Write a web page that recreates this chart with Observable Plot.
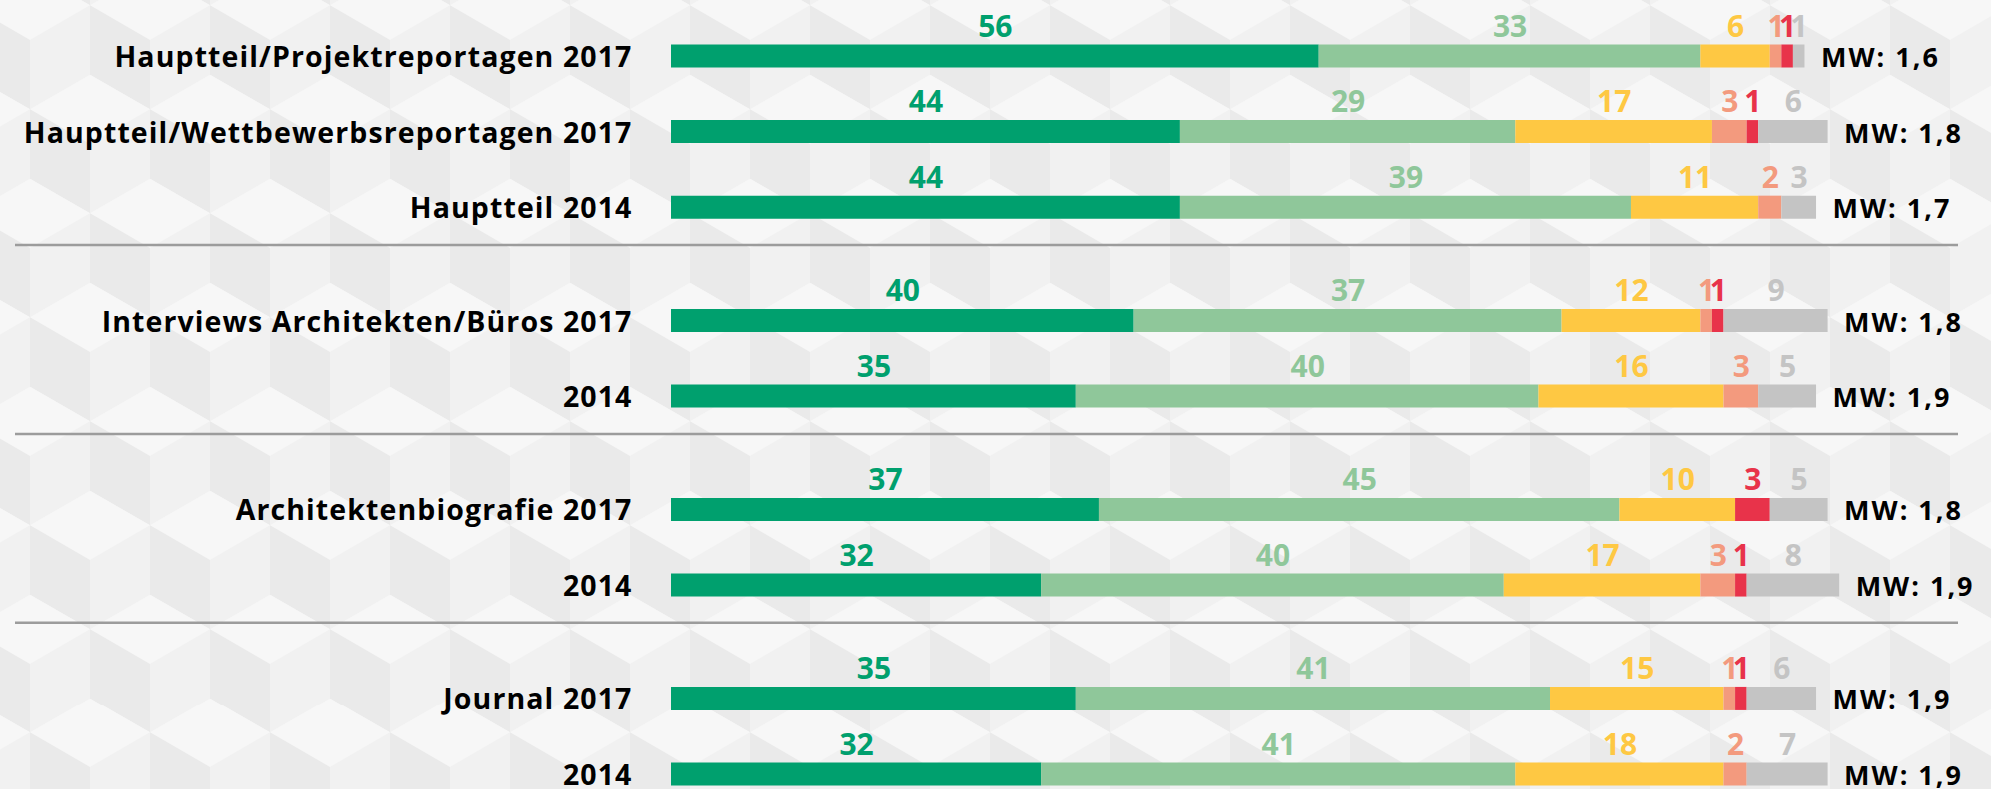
<!DOCTYPE html>
<html>
<head>
<meta charset="utf-8">
<script src="https://cdn.jsdelivr.net/npm/d3@7"></script>
<script src="https://cdn.jsdelivr.net/npm/@observablehq/plot@0.6"></script>
<style>
  html, body { margin: 0; padding: 0; }
  body { width: 1991px; height: 789px; overflow: hidden; background-color: #f3f3f3; font-family: "Open Sans", Lato, sans-serif; }
  #chart svg { display: block; }
  .mw text { letter-spacing: 2px; }
  .cat text { letter-spacing: 1.1px; }
</style>
</head>
<body>
<div id="chart"></div>
<script>
// ---- data ----
const categories = [
  "Hauptteil/Projektreportagen 2017",
  "Hauptteil/Wettbewerbsreportagen 2017",
  "Hauptteil 2014",
  "Interviews Architekten/Büros 2017",
  "2014",
  "Architektenbiografie 2017",
  "2014",
  "Journal 2017",
  "2014"
];
const groups = [0, 0, 0, 1, 1, 2, 2, 3, 3];
const seriesNames = ["Note 1", "Note 2", "Note 3", "Note 4", "Note 5", "keine Angabe"];
const note1 = [56, 44, 44, 40, 35, 37, 32, 35, 32];
const note2 = [33, 29, 39, 37, 40, 45, 40, 41, 41];
const note3 = [6, 17, 11, 12, 16, 10, 17, 15, 18];
const note4 = [1, 3, 2, 1, 3, 0, 3, 1, 2];
const note5 = [1, 1, 0, 1, 0, 3, 1, 1, 0];
const keineAngabe = [1, 6, 3, 9, 5, 5, 8, 6, 7];
const mittelwert = ["1,6", "1,8", "1,7", "1,8", "1,9", "1,8", "1,9", "1,9", "1,9"];
const colors = ["#00a06e", "#8fc79a", "#fec843", "#f39a7e", "#e8334a", "#c4c4c4"];

// ---- background pattern (isometric cubes) ----
(function () {
  const W = 120, s = 69.282, H = 3 * s;
  const top = "#f7f7f7", left = "#eaeaea", right = "#f1f1f1";
  const centers = [[0, 0], [120, 0], [60, 1.5 * s], [0, H], [120, H]];
  let p = `<rect width="${W}" height="${H}" fill="${top}"/>`;
  for (const [cx, cy] of centers) {
    const pts = a => a.map(q => q.join(",")).join(" ");
    p += `<polygon fill="${top}" points="${pts([[cx, cy - s], [cx + 60, cy - s / 2], [cx, cy], [cx - 60, cy - s / 2]])}"/>`;
    p += `<polygon fill="${left}" points="${pts([[cx - 60, cy - s / 2], [cx, cy], [cx, cy + s], [cx - 60, cy + s / 2]])}"/>`;
    p += `<polygon fill="${right}" points="${pts([[cx, cy], [cx + 60, cy - s / 2], [cx + 60, cy + s / 2], [cx, cy + s]])}"/>`;
  }
  const svg = `<svg xmlns="http://www.w3.org/2000/svg" width="${W}" height="${H}" viewBox="0 0 ${W} ${H}">${p}</svg>`;
  document.body.style.backgroundImage = `url("data:image/svg+xml,${encodeURIComponent(svg)}")`;
  document.body.style.backgroundSize = `${W}px ${H}px`;
  document.body.style.backgroundPosition = `30px 40px`;
})();

// ---- derived tables ----
const series = [note1, note2, note3, note4, note5, keineAngabe];
const rows = categories.map((c, i) => ({
  label: c,
  pos: i + groups[i] * 0.5,
  total: d3.sum(series, s => s[i]),
  mw: "MW: " + mittelwert[i]
}));
const segs = [];
rows.forEach((r, i) => {
  let acc = 0;
  series.forEach((s, k) => {
    const v = s[i];
    segs.push({pos: r.pos, x1: acc, x2: acc + v, value: v, color: colors[k], name: seriesNames[k]});
    acc += v;
  });
});
const separators = d3.range(1, rows.length)
  .filter(i => groups[i] !== groups[i - 1])
  .map(i => rows[i - 1].pos + 0.5);

const chart = Plot.plot({
  width: 1991,
  height: 789,
  marginLeft: 15,
  marginRight: 33,
  marginTop: 0,
  marginBottom: 0,
  style: {background: "transparent", fontFamily: "'Open Sans', sans-serif"},
  x: {domain: [0, 100], range: [671, 1827.6], axis: null},
  y: {domain: [0, 9.5], range: [55.5, 773.5], axis: null},
  marks: [
    Plot.ruleY(separators, {stroke: "#9c9c9c", strokeWidth: 2.5}),
    Plot.ruleY(segs.filter(d => d.value > 0), {
      y: "pos", x1: "x1", x2: "x2", stroke: d => d.color, strokeWidth: 23, strokeLinecap: "butt"
    }),
    Plot.text(segs.filter(d => d.value > 0), {
      x: d => (d.x1 + d.x2) / 2, y: "pos", text: d => String(d.value), fill: d => d.color,
      lineAnchor: "bottom", dy: -19.5, fontSize: 30, fontWeight: 700
    }),
    Plot.text(rows, {
      x: () => 0, y: "pos", text: "label", textAnchor: "end", dx: -39, dy: 11,
      lineAnchor: "bottom", fontSize: 28.5, fontWeight: 700, fill: "#000", className: "cat"
    }),
    Plot.text(rows, {
      x: "total", y: "pos", text: "mw", textAnchor: "start", dx: 16, dy: 11,
      lineAnchor: "bottom", fontSize: 27, fontWeight: 700, fill: "#000", className: "mw"
    })
  ]
});
document.getElementById("chart").appendChild(chart);
</script>
</body>
</html>
